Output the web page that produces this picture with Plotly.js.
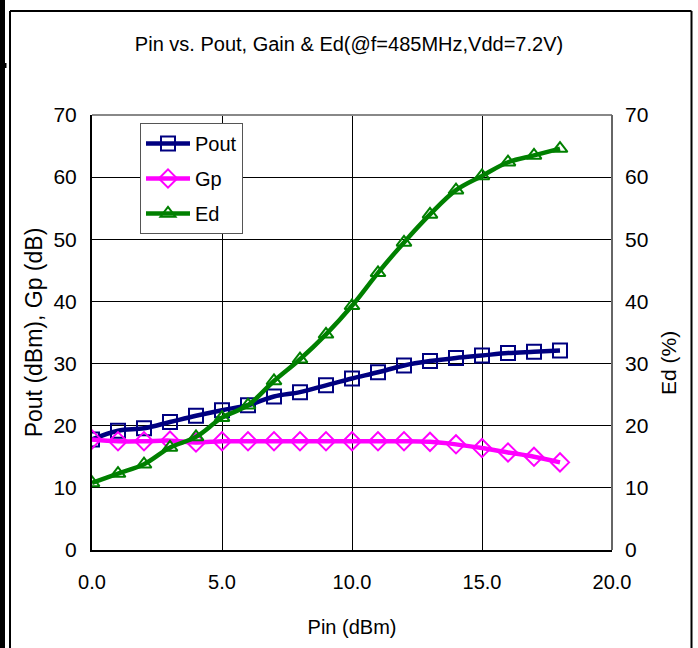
<!DOCTYPE html>
<html>
<head>
<meta charset="utf-8">
<script src="https://cdn.plot.ly/plotly-3.0.1.min.js"></script>
<style>
html,body{margin:0;padding:0;background:#fff;}
#chart{width:698px;height:648px;}
</style>
</head>
<body>
<div id="chart"></div>
<script>
const pin  = [0,1,2,3,4,5,6,7,8,9,10,11,12,13,14,15,16,17,18];
const pout = [17.8,19.2,19.6,20.6,21.6,22.5,23.3,24.7,25.4,26.5,27.6,28.6,29.7,30.4,30.9,31.3,31.7,31.9,32.1];
const gp   = [17.8,17.5,17.5,17.6,17.3,17.5,17.5,17.5,17.5,17.5,17.5,17.5,17.5,17.4,17.0,16.4,15.7,15.0,14.1];
const ed   = [10.8,12.3,13.8,16.5,18.2,21.3,23.3,27.2,30.7,34.7,39.3,44.6,49.5,54.0,57.9,60.2,62.4,63.5,64.6];
const xTicks = [0,5,10,15,20];
const xTickText = ['0.0','5.0','10.0','15.0','20.0'];
const yTicks = [0,10,20,30,40,50,60,70];

const FONT = 'Liberation Sans, Arial, sans-serif';

const traces = [
  {x: pin, y: pout, name: 'Pout', type: 'scatter', mode: 'lines+markers', legendgroup: 'a',
   line: {color: '#000080', width: 4.5, shape: 'spline'},
   marker: {symbol: 'square-open', size: 14, color: '#000080', line: {width: 2, color: '#000080'}}},
  {x: pin, y: gp, name: 'Gp', type: 'scatter', mode: 'lines+markers', legendgroup: 'b',
   line: {color: '#FF00FF', width: 4.5, shape: 'spline'},
   marker: {symbol: 'diamond-open', size: 14, color: '#FF00FF', line: {width: 2, color: '#FF00FF'}}},
  {x: pin, y: ed, name: 'Ed', type: 'scatter', mode: 'lines+markers', yaxis: 'y2', legendgroup: 'c',
   line: {color: '#008000', width: 4.5, shape: 'spline'},
   marker: {symbol: 'triangle-up-open', size: 13, color: '#008000', line: {width: 2, color: '#008000'}}}
];

function px(v){ return (v - 92) / 520; }
function py(v){ return (550 - v) / 435; }

const layout = {
  width: 698, height: 648,
  margin: {l: 92, r: 86, t: 115, b: 98, pad: 0},
  paper_bgcolor: '#fff', plot_bgcolor: '#fff',
  font: {family: FONT, size: 20, color: '#000'},
  showlegend: true,
  title: {text: 'Pin vs. Pout, Gain &amp; Ed(@f=485MHz,Vdd=7.2V)', font: {family: FONT, size: 20, color: '#000'},
          x: 0.5, xanchor: 'center', y: 1 - 44/648, yanchor: 'middle'},
  xaxis: {range: [0, 20], tickvals: xTicks, ticktext: xTickText, showgrid: true, gridcolor: '#000', gridwidth: 1,
          zeroline: false, showline: true, linecolor: '#000', linewidth: 2, ticks: '',
          tickfont: {family: FONT, size: 20}, ticklabelstandoff: 13,
          title: {text: 'Pin (dBm)', font: {family: FONT, size: 20}, standoff: 28}},
  yaxis: {range: [0, 70], tickvals: yTicks, showgrid: true, gridcolor: '#000', gridwidth: 1,
          zeroline: false, showline: true, linecolor: '#000', linewidth: 2, ticks: '',
          tickfont: {family: FONT, size: 21}, ticklabelstandoff: 9,
          title: {text: 'Pout (dBm), Gp (dB)', font: {family: FONT, size: 23}, standoff: 4}},
  yaxis2: {range: [0, 70], tickvals: yTicks, overlaying: 'y', side: 'right', showgrid: false,
           zeroline: false, showline: false, ticks: '',
           tickfont: {family: FONT, size: 21}, ticklabelstandoff: 12},
  annotations: [
    {text: 'Ed (%)', xref: 'paper', yref: 'paper', x: px(668), y: py(363), xanchor: 'center', yanchor: 'middle',
     textangle: -90, showarrow: false, font: {family: FONT, size: 21, color: '#000'}}
  ],
  legend: {x: px(140), y: py(123), xanchor: 'left', yanchor: 'top', bgcolor: '#fff',
           bordercolor: '#555', borderwidth: 1, font: {family: FONT, size: 20},
           traceorder: 'grouped', tracegroupgap: 6, itemwidth: 44},
  shapes: [
    {type: 'line', xref: 'paper', yref: 'paper', x0: 0, x1: 1, y0: 1, y1: 1, line: {color: '#888', width: 2}},
    {type: 'line', xref: 'paper', yref: 'paper', x0: 1, x1: 1, y0: 0, y1: 1, line: {color: '#666', width: 2}},
    {type: 'rect', xref: 'paper', yref: 'paper', x0: px(0), x1: px(5), y0: py(660), y1: py(0), fillcolor: '#000', line: {width: 0}},
    {type: 'rect', xref: 'paper', yref: 'paper', x0: px(0), x1: px(6.5), y0: py(68), y1: py(63), fillcolor: '#000', line: {width: 0}},
    {type: 'line', xref: 'paper', yref: 'paper', x0: px(10), x1: px(10), y0: py(11), y1: py(660), line: {color: '#000', width: 2}},
    {type: 'line', xref: 'paper', yref: 'paper', x0: px(10), x1: px(691.5), y0: py(11), y1: py(11), line: {color: '#000', width: 2}},
    {type: 'line', xref: 'paper', yref: 'paper', x0: px(691.5), x1: px(691.5), y0: py(11), y1: py(660), line: {color: '#000', width: 2}}
  ]
};

Plotly.newPlot('chart', traces, layout, {displayModeBar: false, staticPlot: true});
</script>
</body>
</html>
